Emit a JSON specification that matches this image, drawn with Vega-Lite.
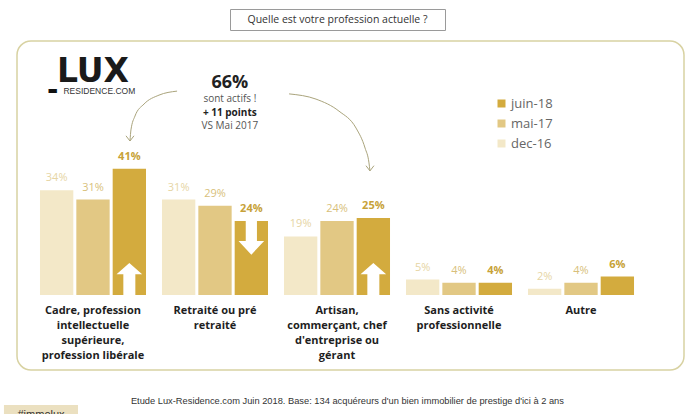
{
  "$schema": "https://vega.github.io/schema/vega-lite/v6.json",
  "background": "white",
  "autosize": {"type": "pad"},
  "padding": {"left": 3, "top": 8, "right": 0, "bottom": 0},
  "spacing": 9,
  "config": {"view": {"stroke": null}, "font": "Open Sans"},
  "datasets": {
    "survey": [
      {"categorie": "Cadre, profession intellectuelle supérieure, profession libérale", "periode": "dec-16", "part": 0.34},
      {"categorie": "Cadre, profession intellectuelle supérieure, profession libérale", "periode": "mai-17", "part": 0.31},
      {"categorie": "Cadre, profession intellectuelle supérieure, profession libérale", "periode": "juin-18", "part": 0.41, "tendance": "hausse"},
      {"categorie": "Retraité ou pré retraité", "periode": "dec-16", "part": 0.31},
      {"categorie": "Retraité ou pré retraité", "periode": "mai-17", "part": 0.29},
      {"categorie": "Retraité ou pré retraité", "periode": "juin-18", "part": 0.24, "tendance": "baisse"},
      {"categorie": "Artisan, commerçant, chef d'entreprise ou gérant", "periode": "dec-16", "part": 0.19},
      {"categorie": "Artisan, commerçant, chef d'entreprise ou gérant", "periode": "mai-17", "part": 0.24},
      {"categorie": "Artisan, commerçant, chef d'entreprise ou gérant", "periode": "juin-18", "part": 0.25, "tendance": "hausse"},
      {"categorie": "Sans activité professionnelle", "periode": "dec-16", "part": 0.05},
      {"categorie": "Sans activité professionnelle", "periode": "mai-17", "part": 0.04},
      {"categorie": "Sans activité professionnelle", "periode": "juin-18", "part": 0.04},
      {"categorie": "Autre", "periode": "dec-16", "part": 0.02},
      {"categorie": "Autre", "periode": "mai-17", "part": 0.04},
      {"categorie": "Autre", "periode": "juin-18", "part": 0.06}
    ],
    "libelles": [
      {"categorie": "Cadre, profession intellectuelle supérieure, profession libérale", "lignes": ["Cadre, profession", "intellectuelle", "supérieure,", "profession libérale"]},
      {"categorie": "Retraité ou pré retraité", "lignes": ["Retraité ou pré", "retraité"]},
      {"categorie": "Artisan, commerçant, chef d'entreprise ou gérant", "lignes": ["Artisan,", "commerçant, chef", "d'entreprise ou", "gérant"]},
      {"categorie": "Sans activité professionnelle", "lignes": ["Sans activité", "professionnelle"]},
      {"categorie": "Autre", "lignes": ["Autre"]}
    ],
    "fleches": [
      {"fleche": "gauche", "pos": 0.689, "part": 0.662},
      {"fleche": "gauche", "pos": 0.541, "part": 0.649},
      {"fleche": "gauche", "pos": 0.418, "part": 0.620},
      {"fleche": "gauche", "pos": 0.344, "part": 0.581},
      {"fleche": "gauche", "pos": 0.311, "part": 0.536},
      {"fleche": "gauche", "pos": 0.303, "part": 0.500, "pointe": true},
      {"fleche": "droite", "pos": 1.607, "part": 0.653},
      {"fleche": "droite", "pos": 1.828, "part": 0.636},
      {"fleche": "droite", "pos": 2.016, "part": 0.597},
      {"fleche": "droite", "pos": 2.156, "part": 0.542},
      {"fleche": "droite", "pos": 2.230, "part": 0.477},
      {"fleche": "droite", "pos": 2.262, "part": 0.429},
      {"fleche": "droite", "pos": 2.270, "part": 0.403, "pointe": true}
    ]
  },
  "vconcat": [
    {
      "spacing": 0,
      "hconcat": [
        {
          "width": 212, "height": 21,
          "data": {"values": [{}]},
          "mark": {"type": "text"},
          "encoding": {"text": {"value": ""}},
          "view": {"stroke": null}
        },
        {
          "width": 215, "height": 21,
          "data": {"values": [{"q": "Quelle est votre profession actuelle ?"}]},
          "mark": {"type": "text", "font": "Open Sans", "fontSize": 10.5, "color": "#333333"},
          "encoding": {"text": {"field": "q"}},
          "view": {"stroke": "#9a9a9a", "strokeWidth": 1}
        }
      ]
    },
    {
      "width": 667,
      "height": 329,
      "view": {"stroke": "#d8d2a2", "strokeWidth": 1.5, "cornerRadius": 14},
      "resolve": {"scale": {"x": "independent"}},
      "layer": [
        {
          "layer": [
            {
              "data": {"name": "survey"},
              "mark": {"type": "bar"},
              "encoding": {
                "x": {"field": "categorie", "type": "nominal", "axis": null, "sort": null,
                  "scale": {"domain": ["Cadre, profession intellectuelle supérieure, profession libérale", "Retraité ou pré retraité", "Artisan, commerçant, chef d'entreprise ou gérant", "Sans activité professionnelle", "Autre"], "paddingInner": 0.131, "paddingOuter": 0.299, "align": 0.315}},
                "xOffset": {"field": "periode", "type": "nominal",
                  "scale": {"domain": ["dec-16", "mai-17", "juin-18"], "paddingInner": 0.083, "paddingOuter": 0}},
                "y": {"field": "part", "type": "quantitative", "axis": null,
                  "scale": {"domain": [-0.2435, 0.8247], "nice": false, "zero": false}},
                "color": {"field": "periode", "type": "nominal",
                  "scale": {"domain": ["dec-16", "mai-17", "juin-18"], "range": ["#f3e8c8", "#e2c884", "#d3ab3e"]},
                  "legend": {"orient": "none", "legendX": 478, "legendY": 88, "title": null,
                    "values": ["juin-18", "mai-17", "dec-16"], "direction": "vertical",
                    "symbolType": "square", "symbolSize": 64, "symbolStrokeWidth": 0,
                    "labelFont": "Open Sans", "labelFontSize": 13, "labelColor": "#666666",
                    "rowPadding": 6, "labelOffset": 3, "padding": 0}}
              }
            },
            {
              "data": {"name": "survey"},
              "transform": [{"filter": "datum.periode !== 'juin-18'"}],
              "mark": {"type": "text", "font": "Open Sans", "fontSize": 11, "baseline": "middle", "dy": -12},
              "encoding": {
                "x": {"field": "categorie", "type": "nominal"},
                "xOffset": {"field": "periode", "type": "nominal"},
                "y": {"field": "part", "type": "quantitative"},
                "text": {"field": "part", "type": "quantitative", "format": ".0%"},
                "fill": {"field": "periode", "type": "nominal", "legend": null,
                  "scale": {"domain": ["dec-16", "mai-17", "juin-18"], "range": ["#e6d5a4", "#d8bf7b", "#c7a238"]}}
              }
            },
            {
              "data": {"name": "survey"},
              "transform": [{"filter": "datum.periode === 'juin-18'"}],
              "mark": {"type": "text", "font": "Open Sans", "fontSize": 11, "fontWeight": "bold", "baseline": "middle", "dy": -12},
              "encoding": {
                "x": {"field": "categorie", "type": "nominal"},
                "xOffset": {"field": "periode", "type": "nominal"},
                "y": {"field": "part", "type": "quantitative"},
                "text": {"field": "part", "type": "quantitative", "format": ".0%"},
                "fill": {"field": "periode", "type": "nominal", "legend": null}
              }
            },
            {
              "data": {"name": "survey"},
              "transform": [{"filter": "datum.tendance === 'hausse'"}],
              "mark": {"type": "point", "filled": true, "opacity": 1, "color": "white", "strokeWidth": 0,
                "size": 256, "shape": "M-0.75,0L-0.75,-2.6L-1.6,-2.6L0,-4L1.6,-2.6L0.75,-2.6L0.75,0Z"},
              "encoding": {
                "x": {"field": "categorie", "type": "nominal"},
                "xOffset": {"field": "periode", "type": "nominal"},
                "y": {"datum": 0, "type": "quantitative"}
              }
            },
            {
              "data": {"name": "survey"},
              "transform": [{"filter": "datum.tendance === 'baisse'"}],
              "mark": {"type": "point", "filled": true, "opacity": 1, "color": "white", "strokeWidth": 0,
                "size": 256, "shape": "M-0.7,0L-0.7,2.5L-1.6,2.5L0,4.2L1.6,2.5L0.7,2.5L0.7,0Z"},
              "encoding": {
                "x": {"field": "categorie", "type": "nominal"},
                "xOffset": {"field": "periode", "type": "nominal"},
                "y": {"field": "part", "type": "quantitative"}
              }
            },
            {
              "data": {"name": "libelles"},
              "mark": {"type": "text", "font": "Open Sans", "fontSize": 11, "fontWeight": "bold", "color": "#1e1e1e",
                "baseline": "top", "lineHeight": 15, "align": "center"},
              "encoding": {
                "x": {"field": "categorie", "type": "nominal"},
                "y": {"datum": -0.031, "type": "quantitative"},
                "text": {"field": "lignes"}
              }
            },
            {
              "data": {"values": [{"t": "LUX"}]},
              "mark": {"type": "text", "font": "DejaVu Sans", "fontSize": 33, "fontWeight": "bold", "color": "#1a1a1a", "baseline": "alphabetic"},
              "encoding": {
                "x": {"datum": "Cadre, profession intellectuelle supérieure, profession libérale", "type": "nominal", "bandPosition": 0.5},
                "y": {"datum": 0.69, "type": "quantitative"},
                "text": {"field": "t"}
              }
            },
            {
              "data": {"values": [{"t": "RESIDENCE.COM"}]},
              "mark": {"type": "text", "font": "Liberation Sans", "fontSize": 8.5, "color": "#333333", "baseline": "middle"},
              "encoding": {
                "x": {"datum": "Cadre, profession intellectuelle supérieure, profession libérale", "type": "nominal", "bandPosition": 0.56},
                "y": {"datum": 0.661, "type": "quantitative"},
                "text": {"field": "t"}
              }
            },
            {
              "data": {"values": [{"t": "▬"}]},
              "mark": {"type": "text", "font": "DejaVu Sans", "fontSize": 11, "color": "#111111", "baseline": "middle"},
              "encoding": {
                "x": {"datum": "Cadre, profession intellectuelle supérieure, profession libérale", "type": "nominal", "bandPosition": 0.12},
                "y": {"datum": 0.661, "type": "quantitative"},
                "text": {"field": "t"}
              }
            },
            {
              "data": {"values": [{"t": "66%"}]},
              "mark": {"type": "text", "font": "Open Sans", "fontSize": 18, "fontWeight": "bold", "color": "#222222", "baseline": "middle"},
              "encoding": {
                "x": {"datum": "Retraité ou pré retraité", "type": "nominal", "bandPosition": 0.64},
                "y": {"datum": 0.688, "type": "quantitative"},
                "text": {"field": "t"}
              }
            },
            {
              "data": {"values": [{"t": "sont actifs !"}]},
              "mark": {"type": "text", "font": "Open Sans", "fontSize": 10, "color": "#555555", "baseline": "middle"},
              "encoding": {
                "x": {"datum": "Retraité ou pré retraité", "type": "nominal", "bandPosition": 0.64},
                "y": {"datum": 0.635, "type": "quantitative"},
                "text": {"field": "t"}
              }
            },
            {
              "data": {"values": [{"t": "+ 11 points"}]},
              "mark": {"type": "text", "font": "Open Sans", "fontSize": 10, "fontWeight": "bold", "color": "#222222", "baseline": "middle"},
              "encoding": {
                "x": {"datum": "Retraité ou pré retraité", "type": "nominal", "bandPosition": 0.64},
                "y": {"datum": 0.591, "type": "quantitative"},
                "text": {"field": "t"}
              }
            },
            {
              "data": {"values": [{"t": "VS Mai 2017"}]},
              "mark": {"type": "text", "font": "Open Sans", "fontSize": 10, "color": "#555555", "baseline": "middle"},
              "encoding": {
                "x": {"datum": "Retraité ou pré retraité", "type": "nominal", "bandPosition": 0.64},
                "y": {"datum": 0.548, "type": "quantitative"},
                "text": {"field": "t"}
              }
            }
          ]
        },
        {
          "layer": [
            {
              "data": {"name": "fleches"},
              "mark": {"type": "line", "interpolate": "monotone", "color": "#aaa47c", "strokeWidth": 1},
              "encoding": {
                "x": {"field": "pos", "type": "quantitative", "axis": null,
                  "scale": {"domain": [-0.623, 4.844], "nice": false, "zero": false}},
                "y": {"field": "part", "type": "quantitative", "axis": null},
                "detail": {"field": "fleche", "type": "nominal"}
              }
            },
            {
              "data": {"name": "fleches"},
              "transform": [{"filter": "datum.pointe === true"}],
              "mark": {"type": "point", "filled": false, "color": "#aaa47c", "strokeWidth": 1, "opacity": 1,
                "size": 64, "shape": "M-1,-1.3L0,0L1,-1.3"},
              "encoding": {
                "x": {"field": "pos", "type": "quantitative"},
                "y": {"field": "part", "type": "quantitative"}
              }
            },
            {
              "data": {"values": [{"t": "Etude Lux-Residence.com Juin 2018. Base:  134 acquéreurs d'un bien immobilier de prestige d'ici à 2 ans"}]},
              "mark": {"type": "text", "font": "Liberation Sans", "fontSize": 9.3, "color": "#333333", "baseline": "middle"},
              "encoding": {
                "x": {"datum": 2.085, "type": "quantitative"},
                "y": {"datum": -0.344, "type": "quantitative"},
                "text": {"field": "t"}
              }
            },
            {
              "data": {"values": [{"t": "#immolux"}]},
              "mark": {"type": "rect", "color": "#ebe0c0"},
              "encoding": {
                "x": {"datum": -0.73, "type": "quantitative"},
                "x2": {"datum": -0.123},
                "y": {"datum": -0.357, "type": "quantitative"},
                "y2": {"datum": -0.395}
              }
            },
            {
              "data": {"values": [{"t": "#immolux"}]},
              "mark": {"type": "text", "font": "Liberation Sans", "fontSize": 11, "color": "#333333", "baseline": "middle"},
              "encoding": {
                "x": {"datum": -0.426, "type": "quantitative"},
                "y": {"datum": -0.388, "type": "quantitative"},
                "text": {"field": "t"}
              }
            }
          ]
        }
      ]
    }
  ]
}
